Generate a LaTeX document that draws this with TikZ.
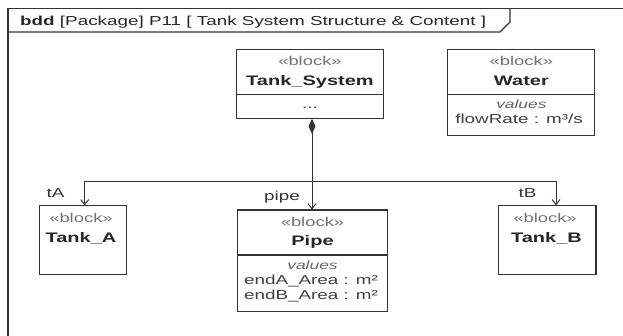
\documentclass[tikz,border=0pt]{standalone}
\usepackage{fontspec}
\setmainfont{Liberation Sans}[FakeStretch=1.45]
\usetikzlibrary{arrows.meta}

\begin{document}
\begin{tikzpicture}
			[x=1pt,y=-1pt,line cap=round,
			%Styles
			frame line/.style={line width=1.4pt,draw=linecolor},
			block/.style={draw=linecolor,line width=1.1pt,inner sep=0pt},
			compartment line/.style={draw=linecolor,line width=1.1pt},
			stereotype/.style={anchor=base,inner sep=0pt,text=black!55,font=\fontsize{12.7}{15}\selectfont},
			block name/.style={anchor=base,inner sep=0pt,text=black!85,font=\fontsize{13.8}{16}\selectfont\bfseries},
			compartment title/.style={anchor=base,inner sep=0pt,text=black!60,font=\fontsize{12}{15}\selectfont\itshape},
			property/.style={anchor=base,inner sep=0pt,text=black!75,font=\fontsize{13}{16}\selectfont},
			role/.style={anchor=base,inner sep=0pt,text=black!80,font=\fontsize{13}{16}\selectfont},
			composition/.style={draw=linecolor,line width=1pt,{Diamond[length=15pt,width=7pt]}-},
			part/.style={draw=linecolor,line width=1pt,-{Straight Barb[length=5pt,width=8pt]}}
			]
			
			%Colors
			\colorlet{linecolor}{black!80}	%frame, boxes, connectors
			
			\clip (0,0) rectangle (623,336);
			\fill[white] (0,0) rectangle (623,336);
			
			%The frame
			\draw[frame line] (8,345) -- (8,8.5) -- (630,8.5);
			\draw[frame line,line width=1.1pt] (8,32) -- (500,32) -- (510,22) -- (510,8.5);
			\node[anchor=base west,inner sep=0pt,text=black!85,font=\fontsize{13}{16}\selectfont] (title) at (20,26)
				{\textbf{bdd} [Package] P11 [ Tank System Structure \& Content ]};
			
			%The graphic
			\node[block,minimum width=147pt,minimum height=69pt] (tanksystem) at (310,83.8) {};
			\draw[compartment line] (236.5,94.3) -- (383.5,94.3);
			\node[stereotype] (tanksystem-st) at (310,66) {«block»};
			\node[block name] (tanksystem-name) at (310,86) {Tank\_System};
			\node[property] (tanksystem-dots) at (310,108.3) {...};
			
			\node[block,minimum width=147pt,minimum height=86pt] (water) at (521.4,92.2) {};
			\draw[compartment line] (448,94.3) -- (594.8,94.3);
			\node[stereotype] (water-st) at (521.4,66) {«block»};
			\node[block name] (water-name) at (521.4,86) {Water};
			\node[compartment title] (water-values) at (521.4,109) {values};
			\node[property] (water-flow) at (519,123.3) {flowRate : m³/s};
			
			\node[block,minimum width=87pt,minimum height=69pt] (tankA) at (82.7,240.4) {};
			\node[stereotype] (tankA-st) at (81,222.7) {«block»};
			\node[block name] (tankA-name) at (81,243) {Tank\_A};
			
			\node[block,minimum width=150pt,minimum height=101.7pt] (pipe) at (312.5,260.9) {};
			\draw[compartment line] (237.5,255) -- (387.5,255);
			\node[stereotype] (pipe-st) at (312.5,226.7) {«block»};
			\node[block name] (pipe-name) at (312.5,246) {Pipe};
			\node[compartment title] (pipe-values) at (312.5,269.3) {values};
			\node[property] (pipe-endA) at (311,284) {endA\_Area : m²};
			\node[property] (pipe-endB) at (311,300) {endB\_Area : m²};
			
			\node[block,minimum width=97.4pt,minimum height=69pt] (tankB) at (547.3,240.4) {};
			\node[stereotype] (tankB-st) at (545,222.7) {«block»};
			\node[block name] (tankB-name) at (546.5,243) {Tank\_B};
			
			%Connectors
			\coordinate (fork) at (312,181.7);
			\draw[composition] (fork |- tanksystem.south) -- (fork);
			\draw[part] (fork) -- (fork |- pipe.north);
			\draw[part] (fork) -| ([xshift=2pt]tankA.north);
			\draw[part] (fork) -| ([xshift=8.7pt]tankB.north);
			
			\node[role] (roleA) at (55.6,198) {tA};
			\node[role] (rolePipe) at (282,201) {pipe};
			\node[role] (roleB) at (527.6,197.7) {tB};
		\end{tikzpicture}
\end{document}
